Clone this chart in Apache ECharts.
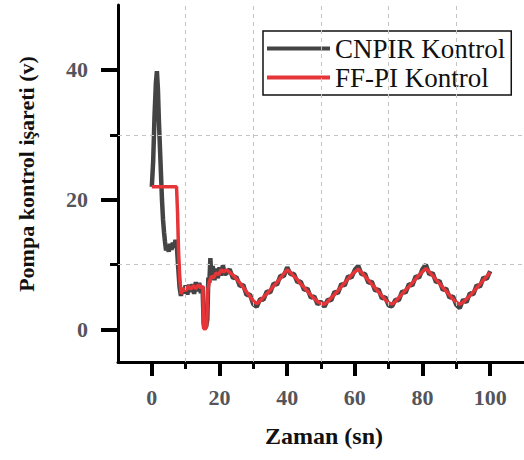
<!DOCTYPE html>
<html>
<head>
<meta charset="utf-8">
<script src="https://cdn.jsdelivr.net/npm/echarts@6/dist/echarts.min.js"></script>
<style>html,body{margin:0;padding:0;background:#fff;}#c{width:524px;height:460px;}</style>
</head>
<body>
<div id="c"></div>
<script>
// ---- data ----
const seriesNames = ['CNPIR Kontrol', 'FF-PI Kontrol'];
const xMajorTicks = [0, 20, 40, 60, 80, 100];
const yMajorTicks = [0, 20, 40];

const cnpirTime = [0,0.4,0.8,1.2,1.5,1.8,2.1,2.4,2.7,3.0,3.3,3.6,3.9,4.2,4.6,5.0,5.4,5.8,6.2,6.6,7.0,7.4,7.8,8.2,8.6,9.0,9.5,10.0,10.5,11.0,11.5,12.0,12.5,13.0,13.5,14.0,14.5,15.0,15.3,15.6,16.0,16.4,16.7,17.0,17.3,17.6,18.0,18.5,19.0,19.5,20.0,20.5,21.0,21.5,
  22,23,24,25,26,27,28,29,30,31,32,33,34,35,36,37,38,39,40,41,42,43,44,45,46,47,48,49,50,51,52,53,54,55,56,57,58,59,60,61,62,63,64,65,66,67,68,69,70,71,72,73,74,75,76,77,78,79,80,81,82,83,84,85,86,87,88,89,90,91,92,93,94,95,96,97,98,99,100];
const cnpirValues = [22,26,33,38,39.8,37,32,28,24,20,17,15,13.5,12.2,12.8,12.0,13.2,12.3,13.4,12.6,13.8,12.8,9.5,6.5,5.2,6.4,5.6,6.8,5.4,6.9,5.8,7.0,5.5,7.3,5.9,7.2,5.6,6.6,1.0,0.2,0.4,1.5,8.0,7.2,11.0,8.2,9.8,7.6,9.4,7.9,9.6,8.3,9.9,8.6,
  8.6,9.3,7.9,8.1,6.7,6.9,5.3,5.4,3.9,3.5,4.7,4.6,5.9,5.7,7.1,6.9,8.3,8.2,9.6,8.5,8.6,7.3,7.4,6.1,6.3,4.9,5.1,3.9,4.3,3.5,4.6,4.5,5.8,5.6,7.0,6.8,8.2,8.0,9.2,9.8,8.5,8.6,7.2,7.4,6.0,6.2,4.8,5.0,3.7,3.6,4.6,4.5,5.9,5.7,7.0,6.8,8.2,8.0,9.3,10.0,8.5,8.7,7.3,7.5,6.1,6.3,4.9,5.1,3.8,3.3,4.6,4.2,5.6,5.4,6.8,6.6,8.0,7.8,9.0];

const ffpiTime = [0,7.3,7.6,7.9,8.3,8.7,9.2,10.0,10.8,11.5,12.3,13.0,13.8,14.5,15.1,15.25,15.7,16.2,16.5,17.0,17.6,18.3,19.0,19.8,20.5,21.2,
  22,23,24,25,26,27,28,29,30,31,32,33,34,35,36,37,38,39,40,41,42,43,44,45,46,47,48,49,50,51,52,53,54,55,56,57,58,59,60,61,62,63,64,65,66,67,68,69,70,71,72,73,74,75,76,77,78,79,80,81,82,83,84,85,86,87,88,89,90,91,92,93,94,95,96,97,98,99,100];
const ffpiValues = [22,22,18,12,7.5,5.5,6.3,6.0,6.7,6.2,6.8,6.3,6.9,6.4,6.7,0.3,0,0.5,6.0,7.4,8.2,8.0,8.7,8.5,9.2,8.9,
  9.2,8.8,8.4,7.8,7.2,6.5,5.8,5.1,4.4,4.0,4.4,5.0,5.5,6.1,6.7,7.3,7.9,8.6,9.2,8.8,8.2,7.7,7.0,6.5,5.9,5.3,4.8,4.3,4.0,3.9,4.3,4.9,5.4,6.0,6.6,7.2,7.8,8.4,8.9,9.3,8.8,8.2,7.6,7.0,6.4,5.8,5.2,4.6,4.1,3.9,4.3,4.9,5.5,6.1,6.6,7.2,7.8,8.4,8.9,9.4,8.9,8.3,7.7,7.1,6.5,5.9,5.3,4.7,4.2,3.9,4.2,4.7,5.2,5.8,6.4,7.0,7.6,8.2,8.8];

const gridLinesX = [10, 30, 50, 70, 90];
const gridLinesY = [10, 30];

// ---- chart ----
const pair = (ts, vs) => ts.map((t, i) => [t, vs[i]]);
const serif = '"Liberation Serif", "Times New Roman", serif';
const chart = echarts.init(document.getElementById('c'), null, {renderer: 'svg'});

const xMin = -10, xMax = 110, yMin = -5, yMax = 50;

chart.setOption({
  animation: false,
  grid: {left: 118, top: 5, right: -6, bottom: 98},
  legend: {
    data: seriesNames,
    orient: 'vertical',
    left: 263, top: 31,
    icon: 'rect', itemWidth: 63, itemHeight: 4, itemGap: 2,
    padding: [4, 6, 4, 4],
    borderColor: '#111', borderWidth: 1.5,
    backgroundColor: '#fff',
    textStyle: {fontFamily: serif, fontSize: 27, lineHeight: 26, color: '#111'}
  },
  xAxis: {
    type: 'value', min: xMin, max: xMax,
    axisLine: {show: true, onZero: false, lineStyle: {color: '#000', width: 3}},
    axisTick: {show: true, customValues: xMajorTicks, length: 14, lineStyle: {color: '#000', width: 4}},
    minorTick: {show: true, splitNumber: 2, length: 7, lineStyle: {color: '#000', width: 3}},
    axisLabel: {customValues: xMajorTicks, margin: 24, fontFamily: serif, fontWeight: 'bold', fontSize: 22},
    splitLine: {show: false}
  },
  yAxis: {
    type: 'value', min: yMin, max: yMax, splitNumber: 3,
    axisLine: {show: true, onZero: false, lineStyle: {color: '#000', width: 3}},
    axisTick: {show: true, customValues: yMajorTicks, length: 17, lineStyle: {color: '#000', width: 4}},
    minorTick: {show: true, splitNumber: 2, length: 8, lineStyle: {color: '#000', width: 3}},
    axisLabel: {customValues: yMajorTicks, margin: 30, fontFamily: serif, fontWeight: 'bold', fontSize: 22},
    splitLine: {show: false}
  },
  graphic: [{
    type: 'text', x: 324, y: 436,
    style: {text: 'Zaman (sn)', align: 'center', verticalAlign: 'middle',
      font: 'bold 24px ' + serif, fill: '#111'}
  }, {
    type: 'text', rotation: Math.PI / 2, x: 26, y: 174,
    style: {text: 'Pompa kontrol işareti (v)', align: 'center', verticalAlign: 'middle',
      font: 'bold 22px ' + serif, fill: '#111'}
  }],
  series: [{
    name: seriesNames[0], type: 'line', data: pair(cnpirTime, cnpirValues),
    showSymbol: false, symbol: 'none',
    color: '#444444', lineStyle: {color: '#444444', width: 4.5},
    markLine: {
      silent: true, symbol: ['none', 'none'], label: {show: false},
      lineStyle: {type: [4, 4], color: '#c4c4c4', width: 1},
      data: gridLinesX.map(v => ({xAxis: v})).concat(gridLinesY.map(v => ({yAxis: v})))
    }
  }, {
    name: seriesNames[1], type: 'line', data: pair(ffpiTime, ffpiValues),
    showSymbol: false, symbol: 'none',
    color: '#e53538', lineStyle: {color: '#e53538', width: 3.5}
  }]
});
</script>
</body>
</html>
